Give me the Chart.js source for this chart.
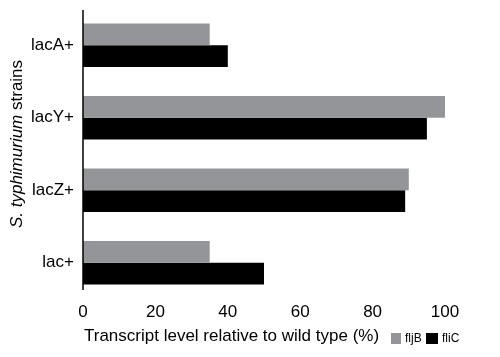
<!DOCTYPE html>
<html>
<head>
<meta charset="utf-8">
<script src="https://cdn.jsdelivr.net/npm/chart.js@4"></script>
<style>
  html, body { margin: 0; padding: 0; background: #fff; }
  #wrap { width: 500px; height: 357px; }
</style>
</head>
<body>
<div id="wrap"><canvas id="c" width="500" height="357"></canvas></div>
<script>
/* 数据 */
const strains = ['lacA+', 'lacY+', 'lacZ+', 'lac+'];
const fljB = [35, 100, 90, 35];
const fliC = [40, 95, 89, 50];
const xTicks = [0, 20, 40, 60, 80, 100];

const FONT = '"Liberation Sans", Arial, Helvetica, sans-serif';

/** 轴线、轴标题 + 图例（自绘） */
const annotations = {
    id: 'annotations',
    afterDraw(chart) {
        const ctx = chart.ctx;
        const area = chart.chartArea;
        ctx.save();

        // y 轴线
        ctx.strokeStyle = '#000';
        ctx.lineWidth = 1.5;
        ctx.beginPath();
        ctx.moveTo(area.left, 10);
        ctx.lineTo(area.left, 290);
        ctx.stroke();

        ctx.fillStyle = '#000';
        ctx.textBaseline = 'middle';

        // x 轴标题
        ctx.font = '17px ' + FONT;
        ctx.textAlign = 'left';
        ctx.fillText('Transcript level relative to wild type (%)', area.left + 1, 336);

        // 图例
        const items = [['fljB', '#939598', 391, 10], ['fliC', '#000000', 426, 12]];
        ctx.font = '12px ' + FONT;
        items.forEach(([name, color, x, w]) => {
            ctx.fillStyle = color;
            ctx.fillRect(x, 333, w, 11);
            ctx.fillStyle = '#000';
            ctx.fillText(name, x + w + 4, 339);
        });

        // y 轴标题（斜体种名）
        ctx.translate(17, 144);
        ctx.rotate(-Math.PI / 2);
        const italic = 'italic 17px ' + FONT;
        const normal = '17px ' + FONT;
        ctx.font = italic;
        const w1 = ctx.measureText('S. typhimurium').width;
        ctx.font = normal;
        const w2 = ctx.measureText(' strains').width;
        const x0 = -(w1 + w2) / 2;
        ctx.font = italic;
        ctx.fillText('S. typhimurium', x0, 0);
        ctx.font = normal;
        ctx.fillText(' strains', x0 + w1, 0);
        ctx.restore();
    }
};

new Chart(document.getElementById('c').getContext('2d'), {
    type: 'bar',
    data: {
        labels: strains,
        datasets: [
            { label: 'fljB', data: fljB, backgroundColor: '#939598' },
            { label: 'fliC', data: fliC, backgroundColor: '#000000' }
        ]
    },
    options: {
        indexAxis: 'y',
        responsive: false,
        animation: false,
        layout: { padding: { top: 9, right: 55, left: 0, bottom: 0 } },
        datasets: { bar: { categoryPercentage: 0.6, barPercentage: 1.0 } },
        plugins: { legend: { display: false }, tooltip: { enabled: false } },
        scales: {
            x: {
                min: 0, max: 100,
                afterBuildTicks: s => { s.ticks = xTicks.map(v => ({ value: v })); },
                grid: { display: false, drawTicks: false },
                border: { display: false },
                ticks: { color: '#000', font: { family: FONT, size: 17 }, padding: 3 },
                afterFit: s => { s.height = 58; s.paddingLeft = 0; s.paddingRight = 0; }
            },
            y: {
                grid: { display: false, drawTicks: false },
                border: { display: false },
                ticks: { color: '#000', font: { family: FONT, size: 17 }, padding: 9 },
                afterFit: s => { s.width = 83; s.paddingTop = 0; s.paddingBottom = 0; }
            }
        }
    },
    plugins: [annotations]
});
</script>
</body>
</html>
